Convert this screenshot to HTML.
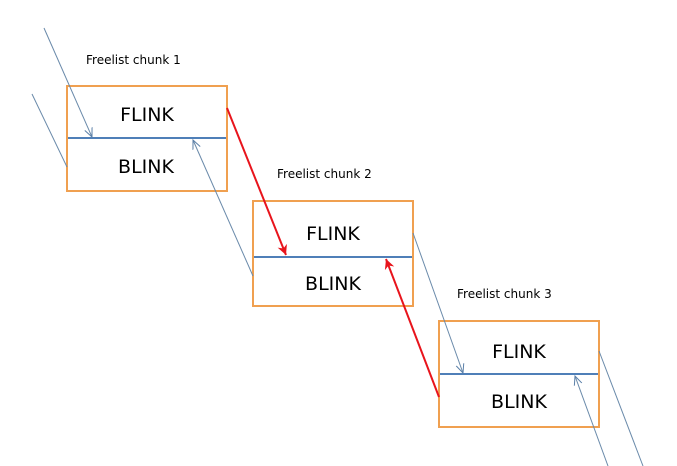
<!DOCTYPE html>
<html><head><meta charset="utf-8"><style>
html,body{margin:0;padding:0;background:#fff;}
svg{display:block;}
text{font-family:"DejaVu Sans","Liberation Sans",sans-serif;fill:#000;}
</style></head><body>
<svg width="677" height="466" viewBox="0 0 677 466" xmlns="http://www.w3.org/2000/svg">
<defs>
<marker id="ob" markerWidth="10" markerHeight="10" refX="9" refY="5" orient="auto" markerUnits="userSpaceOnUse">
<path d="M0,1 L9,5 L0,9" fill="none" stroke="#5a7fa8" stroke-width="1"/>
</marker>
<marker id="rd" markerWidth="12" markerHeight="12" refX="10" refY="6" orient="auto" markerUnits="userSpaceOnUse">
<path d="M0,1 L10,6 L0,11 L3,6 Z" fill="#e8141c"/>
</marker>
</defs>
<g fill="none" stroke-width="2" stroke="#f0a050">
<rect x="67" y="86" width="160" height="105"/>
<rect x="253" y="201" width="160" height="105"/>
<rect x="439" y="321" width="160" height="106"/>
</g>
<g stroke="#4f7fb8" stroke-width="2">
<line x1="68" y1="138" x2="226" y2="138"/>
<line x1="254" y1="257" x2="412" y2="257"/>
<line x1="440" y1="374" x2="598" y2="374"/>
</g>
<g font-size="19" text-anchor="middle">
<text x="147" y="121">FLINK</text>
<text x="146" y="173">BLINK</text>
<text x="333" y="240">FLINK</text>
<text x="333" y="290">BLINK</text>
<text x="519" y="358">FLINK</text>
<text x="519" y="408">BLINK</text>
</g>
<g font-size="12">
<text x="86" y="64">Freelist chunk 1</text>
<text x="277" y="178">Freelist chunk 2</text>
<text x="457" y="298">Freelist chunk 3</text>
</g>
<g stroke="#6a8aaa" stroke-width="1" fill="none">
<line x1="44" y1="28" x2="92" y2="137" marker-end="url(#ob)"/>
<line x1="32" y1="94" x2="67" y2="167"/>
<line x1="253" y1="276" x2="193" y2="140" marker-end="url(#ob)"/>
<line x1="413" y1="233" x2="463" y2="373" marker-end="url(#ob)"/>
<line x1="599" y1="351" x2="643" y2="466"/>
<line x1="608" y1="466" x2="575" y2="376" marker-end="url(#ob)"/>
</g>
<g stroke="#e8141c" stroke-width="2" fill="none">
<line x1="227" y1="108" x2="286" y2="255" marker-end="url(#rd)"/>
<line x1="439" y1="397" x2="386" y2="259" marker-end="url(#rd)"/>
</g>
</svg>
</body></html>
